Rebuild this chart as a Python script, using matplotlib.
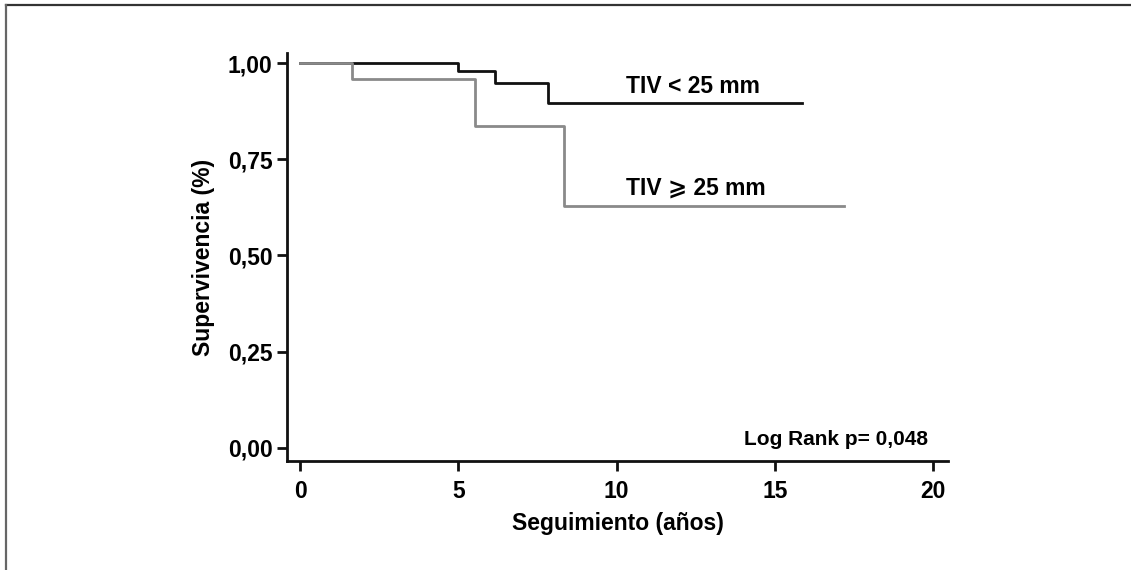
import matplotlib
matplotlib.use("Agg")
import matplotlib.pyplot as plt
from matplotlib.lines import Line2D

# Curvas de supervivencia (Kaplan-Meier)
tiv_menor_t = [0, 5.0, 6.16, 7.83, 15.85]
tiv_menor_s = [1.0, 0.978, 0.947, 0.895, 0.895]
tiv_mayor_t = [0, 1.64, 5.53, 8.34, 17.2]
tiv_mayor_s = [1.0, 0.958, 0.836, 0.628, 0.628]

x_ticks = [0, 5, 10, 15, 20]
y_ticks = [0.0, 0.25, 0.50, 0.75, 1.0]
y_tick_labels = ["0,00", "0,25", "0,50", "0,75", "1,00"]

plt.rcParams['font.family'] = ['Liberation Sans', 'DejaVu Sans']
plt.rcParams['font.weight'] = 'bold'

fig = plt.figure(figsize=(11.31, 5.70), dpi=100)
ax = fig.add_axes([0.2538, 0.1912, 0.5844, 0.7158])

ax.step(tiv_menor_t, tiv_menor_s, where='post', color='#111111', lw=2.0)
ax.step(tiv_mayor_t, tiv_mayor_s, where='post', color='#8a8a8a', lw=2.0)

ax.set_xlim(-0.41, 20.47)
ax.set_ylim(-0.034, 1.026)
ax.set_xticks(x_ticks)
ax.set_yticks(y_ticks)
ax.set_yticklabels(y_tick_labels)
ax.tick_params(axis='both', labelsize=16.5, width=2, length=7, color='#111111')
ax.tick_params(axis='x', pad=7)
for lab in ax.get_xticklabels() + ax.get_yticklabels():
    lab.set_fontweight('bold')

for side in ['top', 'right']:
    ax.spines[side].set_visible(False)
for side in ['left', 'bottom']:
    ax.spines[side].set_linewidth(2)
    ax.spines[side].set_color('#111111')

ax.set_xlabel('Seguimiento (años)', fontsize=16.5, fontweight='bold', labelpad=6)
ax.set_ylabel('Supervivencia (%)', fontsize=16.5, fontweight='bold', labelpad=9)

ax.text(12.41, 0.94, 'TIV < 25 mm', fontsize=16.5, fontweight='bold',
        ha='center', va='center')
ax.text(12.5, 0.675, 'TIV ⩾ 25 mm', fontsize=16.5, fontweight='bold',
        ha='center', va='center')
ax.text(19.83, 0.023, 'Log Rank p= 0,048', fontsize=15, fontweight='bold',
        ha='right', va='center')

# marco de la figura (solo arriba e izquierda)
fig.add_artist(Line2D([0.005, 1.0], [0.991, 0.991], color='#333333', lw=1.6,
                      transform=fig.transFigure))
fig.add_artist(Line2D([0.0055, 0.0055], [0.0, 0.991], color='#666666', lw=1.6,
                      transform=fig.transFigure))

fig.savefig('out.png', dpi=100)
